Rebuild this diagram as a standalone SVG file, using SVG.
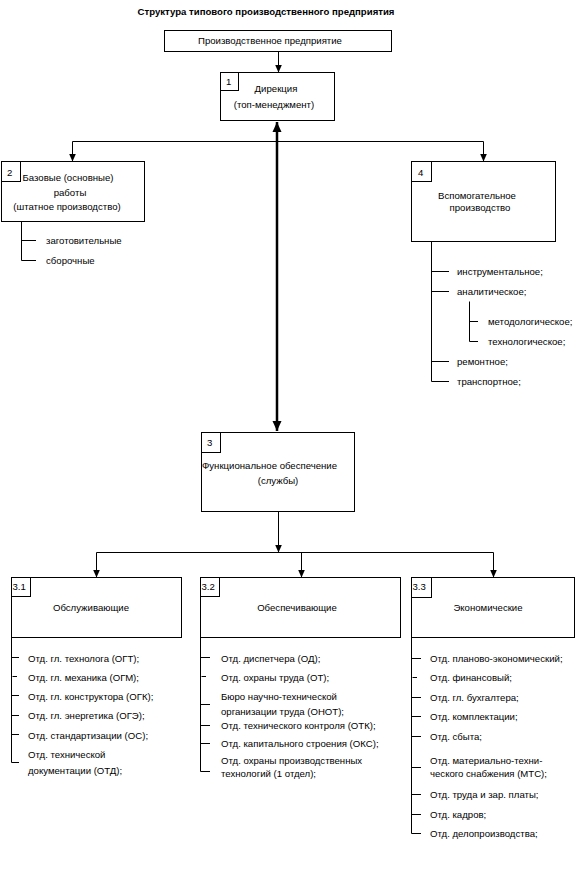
<svg xmlns="http://www.w3.org/2000/svg" width="586" height="888" viewBox="0 0 586 888">
<style>
.box{fill:#fff;stroke:#000;stroke-width:1}
.ln{fill:none;stroke:#000;stroke-width:1}
.arr{fill:none;stroke:#000;stroke-width:1;marker-end:url(#ah)}
.thick{fill:none;stroke:#000;stroke-width:2.5;marker-start:url(#ahb);marker-end:url(#ahb)}
text{font-family:"Liberation Sans",Arial,sans-serif;font-size:9.6px;fill:#000}
.c{text-anchor:middle}
.title{font-weight:bold;font-size:9.6px}
</style>
<defs>
<marker id="ah" viewBox="0 0 8 8" markerWidth="8" markerHeight="8" refX="8" refY="4" orient="auto" markerUnits="userSpaceOnUse"><path d="M0,0.5 L8,4 L0,7.5 z" fill="#000"/></marker>
<marker id="ahb" viewBox="0 0 10 10" markerWidth="10" markerHeight="10" refX="10" refY="5" orient="auto-start-reverse" markerUnits="userSpaceOnUse"><path d="M0,0.5 L10,5 L0,9.5 z" fill="#000"/></marker>
</defs>
<rect width="586" height="888" fill="#fff"/>
<text class="title c" x="266" y="15">Структура типового производственного предприятия</text>

<g id="connectors">
<path class="arr" d="M278.5,51.5 V72.5"/>
<path class="thick" d="M277,122 V431"/>
<path class="arr" d="M277,141.5 H72.5 V161.5"/>
<path class="arr" d="M277,141.5 H483.5 V161.5"/>
<path class="arr" d="M278.5,511.5 V552.5"/>
<path class="ln" d="M96.5,552.5 H493.5"/>
<path class="arr" d="M96.5,552.5 V577.5"/>
<path class="arr" d="M301.5,552.5 V577.5"/>
<path class="arr" d="M493.5,552.5 V577.5"/>
</g>

<g id="enterprise">
<rect class="box" x="164.5" y="30.5" width="227" height="21"/>
<text class="c" x="270" y="44">Производственное предприятие</text>
</g>

<g id="node1">
<rect class="box" x="220.5" y="72.5" width="114" height="48"/>
<rect class="box" x="220.5" y="72.5" width="18" height="18"/>
<text x="226" y="85">1</text>
<text class="c" x="276" y="91.5">Дирекция</text>
<text class="c" x="274" y="108">(топ-менеджмент)</text>
</g>

<g id="node2">
<rect class="box" x="1.5" y="161.5" width="143" height="60"/>
<rect class="box" x="1.5" y="161.5" width="19" height="20"/>
<text x="7" y="176">2</text>
<text class="c" x="68" y="181">Базовые (основные)</text>
<text class="c" x="70" y="195.5">работы</text>
<text class="c" x="67" y="210">(штатное производство)</text>
<path class="ln" d="M21.5,221.5 V260.5 H36 M21.5,240.5 H36"/>
<text x="46" y="244">заготовительные</text>
<text x="46" y="264">сборочные</text>
</g>

<g id="node4">
<rect class="box" x="411.5" y="161.5" width="144" height="80"/>
<rect class="box" x="411.5" y="161.5" width="20" height="20"/>
<text x="418" y="176">4</text>
<text class="c" x="477" y="199">Вспомогательное</text>
<text class="c" x="480" y="211">производство</text>
<path class="ln" d="M431.5,241.5 V381.5 H449 M431.5,271.5 H449 M431.5,291.5 H449 M431.5,361.5 H449"/>
<path class="ln" d="M469.5,301.5 V341.5 H478 M469.5,321.5 H478"/>
<text x="457" y="275">инструментальное;</text>
<text x="457" y="295">аналитическое;</text>
<text x="488" y="325">методологическое;</text>
<text x="488" y="345">технологическое;</text>
<text x="457" y="365">ремонтное;</text>
<text x="457" y="385">транспортное;</text>
</g>

<g id="node3">
<rect class="box" x="201.5" y="432.5" width="153" height="79"/>
<rect class="box" x="201.5" y="432.5" width="19" height="20"/>
<text x="207" y="446">3</text>
<text x="202" y="469">Функциональное обеспечение</text>
<text class="c" x="278" y="484">(службы)</text>
</g>

<g id="node3_1">
<rect class="box" x="11.5" y="577.5" width="170" height="60"/>
<rect class="box" x="11.5" y="577.5" width="19" height="19"/>
<text x="12.5" y="590">3.1</text>
<text class="c" x="91" y="611">Обслуживающие</text>
<path class="ln" d="M11.5,637.5 V762.5 H19 M11.5,657.5 H19 M12.5,676.5 H17 M11.5,695.5 H19 M11.5,715.5 H19 M11.5,734.5 H19"/>
<text x="28" y="661.5">Отд. гл. технолога (ОГТ);</text>
<text x="28" y="680.5">Отд. гл. механика (ОГМ);</text>
<text x="28" y="699.5">Отд. гл. конструктора (ОГК);</text>
<text x="28" y="718.5">Отд. гл. энергетика (ОГЭ);</text>
<text x="28" y="738.5">Отд. стандартизации (ОС);</text>
<text x="28" y="757.5">Отд. технической</text>
<text x="28" y="773.5">документации (ОТД);</text>
</g>

<g id="node3_2">
<rect class="box" x="200.5" y="577.5" width="200" height="60"/>
<rect class="box" x="200.5" y="577.5" width="19" height="19"/>
<text x="201.5" y="590">3.2</text>
<text class="c" x="297" y="611">Обеспечивающие</text>
<path class="ln" d="M200.5,637.5 V771.5 H210 M200.5,657.5 H210 M201.5,676.5 H206 M200.5,704.5 H210 M200.5,725.5 H210 M200.5,743.5 H210"/>
<text x="221" y="661.5">Отд. диспетчера (ОД);</text>
<text x="221" y="680.5">Отд. охраны труда (ОТ);</text>
<text x="221" y="699.5">Бюро научно-технической</text>
<text x="221" y="714.5">организации труда (ОНОТ);</text>
<text x="221" y="728.5">Отд. технического контроля (ОТК);</text>
<text x="221" y="747">Отд. капитального строения (ОКС);</text>
<text x="221" y="763.5">Отд. охраны производственных</text>
<text x="221" y="777">технологий (1 отдел);</text>
</g>

<g id="node3_3">
<rect class="box" x="411.5" y="577.5" width="163" height="60"/>
<rect class="box" x="411.5" y="577.5" width="20" height="20"/>
<text x="412.5" y="590">3.3</text>
<text class="c" x="488" y="611">Экономические</text>
<path class="ln" d="M411.5,637.5 V833.5 H421 M411.5,658.5 H421 M412.5,677.5 H417 M411.5,697.5 H421 M411.5,716.5 H421 M411.5,736.5 H421 M411.5,767.5 H421 M411.5,794.5 H421 M411.5,814.5 H421"/>
<text x="430" y="662">Отд. планово-экономический;</text>
<text x="430" y="681">Отд. финансовый;</text>
<text x="430" y="700.5">Отд. гл. бухгалтера;</text>
<text x="430" y="719.5">Отд. комплектации;</text>
<text x="430" y="739.5">Отд. сбыта;</text>
<text x="430" y="763.5">Отд. материально-техни-</text>
<text x="430" y="777">ческого снабжения (МТС);</text>
<text x="430" y="798">Отд. труда и зар. платы;</text>
<text x="430" y="818">Отд. кадров;</text>
<text x="430" y="837">Отд. делопроизводства;</text>
</g>
</svg>
